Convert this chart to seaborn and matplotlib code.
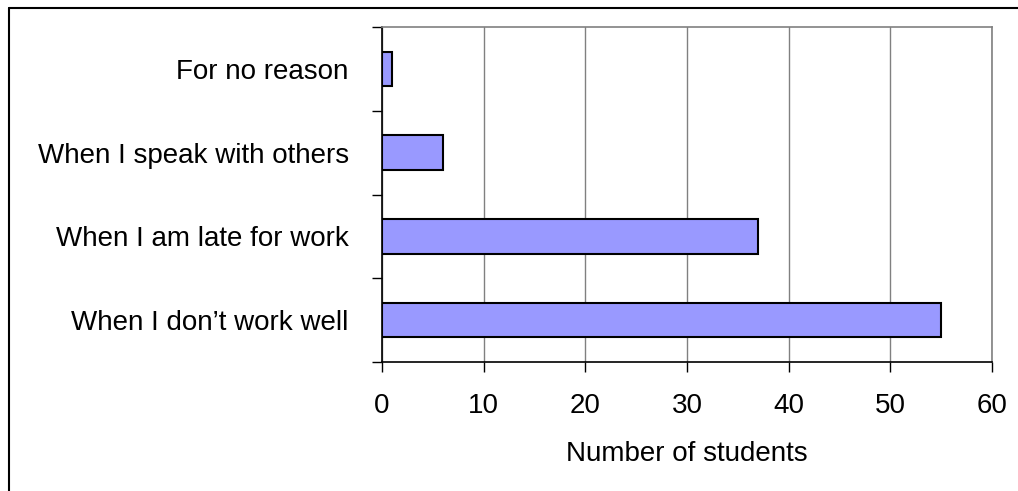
import matplotlib
matplotlib.use("Agg")
import matplotlib.pyplot as plt
import seaborn as sns
import pandas as pd
from matplotlib.lines import Line2D

categories = ["For no reason", "When I speak with others", "When I am late for work", "When I don\u2019t work well"]
values = [1, 6, 37, 55]
xticks = [0, 10, 20, 30, 40, 50, 60]

sns.set_theme(style="white")
plt.rcParams['font.family'] = ['Liberation Sans', 'DejaVu Sans']
plt.rcParams['text.color'] = 'black'
plt.rcParams['xtick.color'] = 'black'
plt.rcParams['ytick.color'] = 'black'
plt.rcParams['axes.labelcolor'] = 'black'

df = pd.DataFrame({"reason": categories, "students": values})

fig = plt.figure(figsize=(10.18, 4.91), dpi=100)
ax = fig.add_axes([382/1018, 1 - 362/491, (992 - 382)/1018, (362 - 27)/491])

sns.barplot(data=df, y="reason", x="students", order=categories, orient="h",
            color="#9999FF", saturation=1, edgecolor="black", linewidth=1.5,
            width=0.41, ax=ax, zorder=3)

ax.set_xlim(0, 60)
ax.set_ylim(3.5, -0.5)
ax.set_xticks(xticks)
ax.set_xticklabels([str(v) for v in xticks], fontsize=20)
ax.xaxis.grid(True, color="#808080", linewidth=1, zorder=0)
ax.yaxis.grid(False)
ax.set_axisbelow(True)

# y ticks at category boundaries, labels at centers
ax.set_yticks(range(len(categories)))
ax.set_yticklabels(categories, fontsize=20)
ax.set_yticks([-0.5, 0.5, 1.5, 2.5, 3.5], minor=True)
ax.tick_params(axis="y", which="major", length=0, pad=24)
ax.tick_params(axis="y", which="minor", length=7, width=1, color="black", left=True)
ax.tick_params(axis="x", which="major", length=7, width=1, color="black", bottom=True, pad=15)

ax.set_xlabel("Number of students", fontsize=20, labelpad=16)
ax.set_ylabel("")

for side in ["left", "bottom"]:
    ax.spines[side].set_color("black")
    ax.spines[side].set_linewidth(1.2)
for side in ["top", "right"]:
    ax.spines[side].set_color("#808080")
    ax.spines[side].set_linewidth(1.2)

# outer chart frame (left and top edges)
fx = 9/1018
fy = 1 - 8/491
fig.add_artist(Line2D([fx, fx], [0, fy], transform=fig.transFigure, color="black", linewidth=1.5))
fig.add_artist(Line2D([fx, 1], [fy, fy], transform=fig.transFigure, color="black", linewidth=1.5))

fig.savefig("out.png", dpi=100, facecolor="white")
